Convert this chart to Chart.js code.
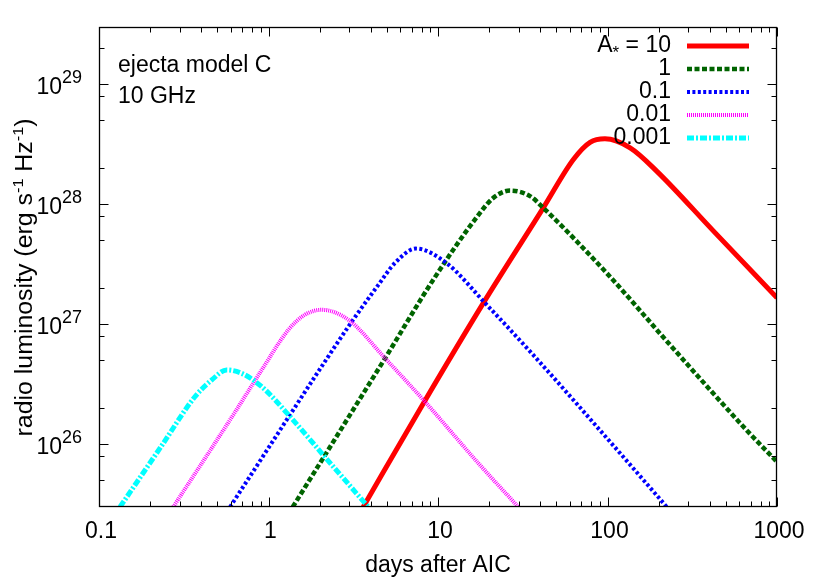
<!DOCTYPE html>
<html>
<head>
<meta charset="utf-8">
<script src="https://cdn.jsdelivr.net/npm/chart.js@4.4.1/dist/chart.umd.min.js"></script>
<style>
    html, body { margin: 0; padding: 0; background: #fff; }
    canvas { display: block; }
</style>
</head>
<body>
<canvas id="lumChart" width="830" height="581"></canvas>
<script>
// Radio light curves at 10 GHz, ejecta model C
const daysA10 = [3.62, 8.19, 18.5, 41.8, 62.9, 78.9, 96.6, 136, 195, 421, 1000];
const lumA10 = [3.0e25, 2.19e26, 1.50e27, 9.33e27, 2.36e28, 3.28e28, 3.51e28, 2.95e28, 1.89e28, 6.0e27, 1.66e27];

const daysA1 = [1.39, 4.87, 9.38, 17.7, 21.2, 26.6, 34.9, 41.8, 98.9, 234, 662, 1000];
const lumA1 = [3.0e25, 5.2e26, 2.35e27, 8.48e27, 1.13e28, 1.30e28, 1.17e28, 9.33e27, 2.67e27, 6.73e26, 1.31e26, 7.13e25];

const daysA01 = [0.593, 2.25, 3.10, 4.45, 5.57, 7.41, 11.2, 19.4, 35.7, 108, 224];
const lumA01 = [3.0e25, 5.37e26, 1.05e27, 2.13e27, 3.24e27, 4.27e27, 3.24e27, 1.45e27, 5.74e26, 9.8e25, 3.0e25];

const daysA001 = [0.274, 0.634, 0.912, 1.31, 1.64, 2.06, 2.96, 4.87, 8.38, 17.7, 29.8];
const lumA001 = [3.0e25, 1.85e26, 4.16e26, 8.98e26, 1.20e27, 1.32e27, 1.09e27, 5.21e26, 2.26e26, 6.7e25, 3.0e25];

const daysA0001 = [0.133, 0.234, 0.368, 0.462, 0.566, 0.695, 0.912, 1.37, 2.15, 3.88];
const lumA0001 = [3.0e25, 9.7e25, 2.49e26, 3.43e26, 4.16e26, 3.90e26, 3.02e26, 1.64e26, 7.85e25, 3.0e25];

const seriesLabels = ['10', '1', '0.1', '0.01', '0.001'];
const xTicks = [0.1, 1, 10, 100, 1000];
const xTickLabels = ['0.1', '1', '10', '100', '1000'];
const yTickExps = [26, 27, 28, 29];
const yMinorMantissas = [2, 5, 8];
const xRange = [0.1, 1000];
const yRange = [3e25, 3e29];

const FONT = '"Liberation Sans", Arial, sans-serif';
const BIG = 23;

function toPoints(xs, ys) {
    return xs.map((x, i) => ({ x: x, y: ys[i] }));
}

function lineDataset(label, xs, ys, color, width, dash, order) {
    return {
        label: label,
        data: toPoints(xs, ys),
        borderColor: color,
        borderWidth: width,
        borderDash: dash,
        borderCapStyle: 'butt',
        pointRadius: 0,
        fill: false,
        cubicInterpolationMode: 'monotone',
        clip: 0,
        order: order
    };
}

// Horizontal key sample, dashes filled as crisp rectangles
function drawKeySample(ctx, x0, x1, y, ds) {
    const w = ds.borderWidth;
    const dash = ds.borderDash || [];
    ctx.fillStyle = ds.borderColor;
    if (!dash.length) {
        ctx.fillRect(x0, y - w / 2, x1 - x0, w);
        return;
    }
    let pos = x0;
    let k = 0;
    while (pos < x1) {
        const len = dash[k % dash.length];
        if (k % 2 === 0) ctx.fillRect(pos, y - w / 2, Math.min(len, x1 - pos), w);
        pos += len;
        k++;
    }
}

// Frame, inward ticks, labels, annotations and key drawn gnuplot style
const gnuplotDecor = {
    id: 'gnuplotDecor',
    afterDraw(chart) {
        const ctx = chart.ctx;
        const area = chart.chartArea;
        const xs = chart.scales.x;
        const ys = chart.scales.y;
        const L = Math.round(area.left) + 0.5;
        const R = Math.round(area.right) - 0.5;
        const T = Math.round(area.top) + 0.5;
        const B = Math.round(area.bottom) - 0.5;

        ctx.save();
        ctx.strokeStyle = '#000';
        ctx.lineWidth = 1;
        ctx.setLineDash([]);

        // x ticks, top and bottom
        const xTick = (v, len) => {
            const p = Math.round(xs.getPixelForValue(v)) + 0.5;
            ctx.beginPath();
            ctx.moveTo(p, B); ctx.lineTo(p, B - len);
            ctx.moveTo(p, T); ctx.lineTo(p, T + len);
            ctx.stroke();
        };
        xTicks.forEach(v => xTick(v, 9));
        for (let d = -1; d < 3; d++) {
            for (let m = 2; m <= 9; m++) xTick(m * Math.pow(10, d), 5);
        }

        // y ticks, left and right
        const yTick = (v, len) => {
            const p = Math.round(ys.getPixelForValue(v)) + 0.5;
            ctx.beginPath();
            ctx.moveTo(L, p); ctx.lineTo(L + len, p);
            ctx.moveTo(R, p); ctx.lineTo(R - len, p);
            ctx.stroke();
        };
        yTickExps.forEach(e => yTick(Math.pow(10, e), 9));
        for (let e = 25; e <= 29; e++) {
            yMinorMantissas.forEach(m => {
                const v = m * Math.pow(10, e);
                if (v > yRange[0] && v < yRange[1]) yTick(v, 5);
            });
        }

        ctx.lineWidth = 1.3;
        ctx.strokeRect(L, T, R - L, B - T);

        ctx.fillStyle = '#000';
        ctx.textBaseline = 'alphabetic';

        // x tick labels
        ctx.font = BIG + 'px ' + FONT;
        ctx.textAlign = 'center';
        xTicks.forEach((v, i) => {
            ctx.fillText(xTickLabels[i], xs.getPixelForValue(v) + 2, 538);
        });

        // y tick labels 10^n
        ctx.textAlign = 'left';
        yTickExps.forEach(e => {
            const p = ys.getPixelForValue(Math.pow(10, e));
            ctx.font = '18px ' + FONT;
            const ew = ctx.measureText(String(e)).width;
            ctx.font = BIG + 'px ' + FONT;
            const bw = ctx.measureText('10').width;
            const right = 82;
            ctx.fillText('10', right - ew - bw, p + 10);
            ctx.font = '18px ' + FONT;
            ctx.fillText(String(e), right - ew, p - 1.5);
        });

        // x title
        ctx.font = BIG + 'px ' + FONT;
        ctx.textAlign = 'center';
        ctx.fillText('days after AIC', (area.left + area.right) / 2, 572);

        // y title, rotated, with superscripts
        const parts = [
            ['radio luminosity (erg s', 0, BIG],
            ['-1', -9, 15],
            [' Hz', 0, BIG],
            ['-1', -9, 15],
            [')', 0, BIG]
        ];
        let total = 0;
        parts.forEach(pt => {
            ctx.font = pt[2] + 'px ' + FONT;
            pt.push(ctx.measureText(pt[0]).width);
            total += pt[3];
        });
        ctx.save();
        ctx.translate(32, 277.5);
        ctx.rotate(-Math.PI / 2);
        ctx.scale(318 / total, 1);
        ctx.textAlign = 'left';
        let cx = -total / 2;
        parts.forEach(pt => {
            ctx.font = pt[2] + 'px ' + FONT;
            ctx.fillText(pt[0], cx, pt[1]);
            cx += pt[3];
        });
        ctx.restore();

        // annotations
        ctx.font = BIG + 'px ' + FONT;
        ctx.textAlign = 'left';
        ctx.fillText('ejecta model C', 118, 72);
        ctx.fillText('10 GHz', 118, 103);

        // key
        const textRight = 671;
        chart.data.datasets.forEach((ds, i) => {
            const base = 51.7 + 23.15 * i;
            ctx.fillStyle = '#000';
            if (i === 0) {
                ctx.font = BIG + 'px ' + FONT;
                const tail = ' = ' + seriesLabels[i];
                const wTail = ctx.measureText(tail).width;
                const wA = ctx.measureText('A').width;
                ctx.font = '17px ' + FONT;
                const wStar = ctx.measureText('*').width;
                let x0 = textRight - wTail - wStar - wA;
                ctx.textAlign = 'left';
                ctx.font = BIG + 'px ' + FONT;
                ctx.fillText('A', x0, base);
                ctx.font = '17px ' + FONT;
                ctx.fillText('*', x0 + wA, base + 6.5);
                ctx.font = BIG + 'px ' + FONT;
                ctx.fillText(tail, x0 + wA + wStar, base);
            } else {
                ctx.font = BIG + 'px ' + FONT;
                ctx.textAlign = 'right';
                ctx.fillText(seriesLabels[i], textRight, base);
            }
            drawKeySample(ctx, 687, 749, Math.round(base - 6), ds);
        });
        ctx.restore();
    }
};

const ctx = document.getElementById('lumChart').getContext('2d');
const lumChart = new Chart(ctx, {
    type: 'line',
    data: {
        datasets: [
            lineDataset('10', daysA10, lumA10, '#ff0000', 5, [], 5),
            lineDataset('1', daysA1, lumA1, '#006400', 4.5, [5, 2.5], 4),
            lineDataset('0.1', daysA01, lumA01, '#0000ff', 4, [3, 2.4], 3),
            lineDataset('0.01', daysA001, lumA001, '#ff00ff', 4, [1, 1], 2),
            lineDataset('0.001', daysA0001, lumA0001, '#00ffff', 5, [7, 2, 2, 2], 1)
        ]
    },
    options: {
        responsive: false,
        animation: false,
        layout: { padding: { left: 99, right: 53, top: 27, bottom: 74 } },
        plugins: {
            legend: { display: false },
            tooltip: { enabled: false }
        },
        scales: {
            x: { type: 'logarithmic', min: xRange[0], max: xRange[1], display: false },
            y: { type: 'logarithmic', min: yRange[0], max: yRange[1], display: false }
        }
    },
    plugins: [gnuplotDecor]
});
</script>
</body>
</html>
